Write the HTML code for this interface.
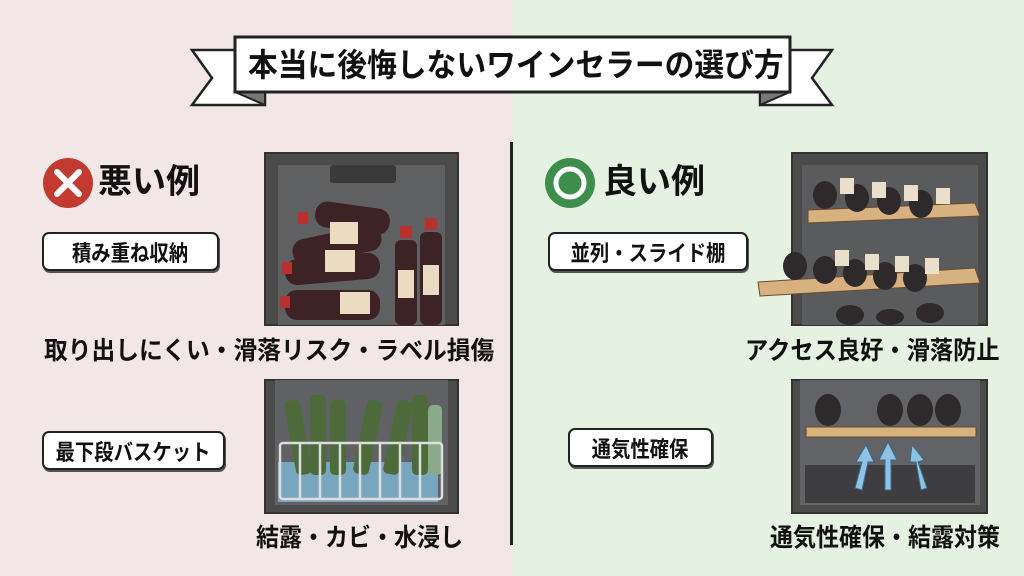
<!DOCTYPE html>
<html><head><meta charset="utf-8"><style>
*{margin:0;padding:0;box-sizing:border-box}
body{width:1024px;height:576px;position:relative;overflow:hidden;font-family:"Liberation Sans","Noto Sans CJK JP",sans-serif;font-weight:700;color:#111}
.t{position:absolute;white-space:nowrap;transform-origin:left center;line-height:1}
.lab{position:absolute;border:2.5px solid #222;border-radius:7px;background:#fff;box-shadow:1px 2px 0 #555;display:flex;align-items:center;justify-content:center;font-size:22px;white-space:nowrap}
.lab span{display:inline-block;transform:scaleX(.88)}
</style></head><body>
<div style="position:absolute;left:0;top:0;width:512px;height:576px;background:#f3e6e6"></div>
<div style="position:absolute;left:512px;top:0;width:512px;height:576px;background:#e5f1e1"></div>
<div style="position:absolute;left:510px;top:142px;width:3px;height:403px;background:#222"></div>

<svg style="position:absolute;left:0;top:0" width="1024" height="576">
 <polygon points="192,50 265,50 265,105 192,105 212,78" fill="#fff" stroke="#222" stroke-width="2.5"/>
 <polygon points="832,50 760,50 760,105 832,105 812,78" fill="#fff" stroke="#222" stroke-width="2.5"/>
 <polygon points="235,92 265,105 265,92" fill="#777" stroke="#222" stroke-width="2"/>
 <polygon points="790,92 760,105 760,92" fill="#777" stroke="#222" stroke-width="2"/>
 <rect x="235" y="37" width="555" height="55" fill="#fff" stroke="#222" stroke-width="3"/>
 <circle cx="68" cy="183" r="25" fill="#c23a30"/>
 <path d="M57 172 L79 194 M79 172 L57 194" stroke="#fff" stroke-width="6" stroke-linecap="round"/>
 <circle cx="570" cy="183" r="25" fill="#3f8d4c"/>
 <circle cx="570" cy="183" r="14" fill="none" stroke="#fff" stroke-width="5"/>

 <!-- fridge 1 -->
 <rect x="265" y="153" width="193" height="172" fill="#4b4b4b" stroke="#333" stroke-width="2"/>
 <rect x="278" y="165" width="167" height="160" fill="#5f6062"/>
 <rect x="330" y="165" width="66" height="18" rx="3" fill="#3a3a3a"/>
 <g fill="#3d2326">
  <rect x="315" y="205" width="75" height="26" rx="12" transform="rotate(8 352 218)"/>
  <rect x="292" y="232" width="90" height="26" rx="12" transform="rotate(-12 337 245)"/>
  <rect x="285" y="256" width="95" height="26" rx="12" transform="rotate(-5 332 269)"/>
  <rect x="285" y="290" width="95" height="30" rx="12"/>
  <rect x="395" y="240" width="22" height="85" rx="6"/>
  <rect x="420" y="232" width="22" height="93" rx="6"/>
 </g>
 <g fill="#e9dcc0"><rect x="330" y="222" width="28" height="22"/><rect x="325" y="250" width="30" height="22"/><rect x="340" y="292" width="30" height="22"/><rect x="398" y="270" width="16" height="28"/><rect x="423" y="265" width="16" height="30"/></g>
 <g fill="#b8312f"><rect x="298" y="212" width="10" height="12"/><rect x="282" y="262" width="10" height="12"/><rect x="280" y="296" width="10" height="12"/><rect x="400" y="226" width="12" height="12"/><rect x="425" y="218" width="12" height="12"/></g>
 <!-- fridge 2 -->
 <rect x="265" y="380" width="193" height="133" fill="#4b4b4b" stroke="#333" stroke-width="2"/>
 <rect x="275" y="380" width="173" height="125" fill="#606164"/>
 <rect x="278" y="462" width="160" height="40" fill="#7fb8d6" opacity=".8"/>
 <g fill="#4c6a3a">
  <rect x="290" y="400" width="16" height="75" rx="5" transform="rotate(-10 298 437)"/>
  <rect x="310" y="395" width="16" height="80" rx="5"/>
  <rect x="330" y="400" width="16" height="75" rx="5"/>
  <rect x="360" y="400" width="16" height="75" rx="5" transform="rotate(12 368 437)"/>
  <rect x="390" y="400" width="16" height="75" rx="5" transform="rotate(12 398 437)"/>
  <rect x="412" y="395" width="16" height="80" rx="5"/>
  <rect x="428" y="405" width="14" height="70" rx="5" fill="#8aaa8a"/>
 </g>
 <g fill="none" stroke="#ddd" stroke-width="2.5">
  <rect x="280" y="443" width="162" height="56" rx="3"/>
  <path d="M300 443v56M320 443v56M340 443v56M360 443v56M380 443v56M400 443v56M420 443v56"/>
 </g>
 <!-- fridge 3 -->
 <rect x="792" y="153" width="195" height="172" fill="#4b4b4b" stroke="#333" stroke-width="2"/>
 <rect x="802" y="165" width="176" height="160" fill="#5a5b5d"/>
 <polygon points="808,210 975,203 980,216 808,223" fill="#d7b17f" stroke="#6a4a2a"/>
 <polygon points="758,282 975,268 980,283 760,296" fill="#d7b17f" stroke="#6a4a2a"/>
 <g fill="#2e2a2c">
  <ellipse cx="825" cy="195" rx="12" ry="14"/><ellipse cx="857" cy="198" rx="12" ry="14"/><ellipse cx="889" cy="201" rx="12" ry="14"/><ellipse cx="921" cy="204" rx="12" ry="14"/>
  <ellipse cx="795" cy="266" rx="12" ry="14"/><ellipse cx="825" cy="270" rx="12" ry="14"/><ellipse cx="855" cy="273" rx="12" ry="14"/><ellipse cx="885" cy="276" rx="12" ry="14"/><ellipse cx="915" cy="278" rx="12" ry="14"/>
  <ellipse cx="850" cy="315" rx="14" ry="10"/><ellipse cx="890" cy="317" rx="14" ry="8"/><ellipse cx="930" cy="313" rx="14" ry="10"/>
 </g>
 <g fill="#eadfcb"><rect x="840" y="178" width="14" height="16"/><rect x="872" y="182" width="14" height="16"/><rect x="904" y="185" width="14" height="16"/><rect x="936" y="188" width="14" height="16"/><rect x="835" y="250" width="14" height="16"/><rect x="865" y="254" width="14" height="16"/><rect x="895" y="256" width="14" height="16"/><rect x="925" y="258" width="14" height="16"/></g>
 <!-- fridge 4 -->
 <rect x="792" y="380" width="195" height="133" fill="#4b4b4b" stroke="#333" stroke-width="2"/>
 <rect x="800" y="380" width="180" height="125" fill="#626366"/>
 <rect x="806" y="427" width="170" height="10" fill="#d7b17f" stroke="#6a4a2a"/>
 <rect x="805" y="465" width="170" height="38" fill="#3e3e40"/>
 <g fill="#2e2a2c"><ellipse cx="828" cy="410" rx="13" ry="16"/><ellipse cx="890" cy="410" rx="13" ry="16"/><ellipse cx="920" cy="410" rx="13" ry="16"/><ellipse cx="948" cy="410" rx="13" ry="16"/></g>
 <g fill="#8fc3e6" stroke="#3a6a8a" stroke-width="1">
  <path d="M855 488 L862 462 L856 462 L866 445 L874 462 L868 462 L862 490Z"/>
  <path d="M885 490 L885 460 L879 460 L888 442 L897 460 L891 460 L891 490Z"/>
  <path d="M921 490 L916 462 L910 462 L912 445 L924 460 L918 462 L927 488Z"/>
 </g>
</svg>

<div class="t" style="left:248px;top:49px;font-size:32px;transform:scaleX(.93)">本当に後悔しないワインセラーの選び方</div>
<div class="t" style="left:98px;top:165px;font-size:34px">悪い例</div>
<div class="t" style="left:603px;top:165px;font-size:34px">良い例</div>

<div class="lab" style="left:42px;top:232px;width:177px;height:39px"><span>積み重ね収納</span></div>
<div class="lab" style="left:548px;top:232px;width:200px;height:39px"><span>並列・スライド棚</span></div>
<div class="lab" style="left:42px;top:431px;width:183px;height:39px"><span>最下段バスケット</span></div>
<div class="lab" style="left:568px;top:428px;width:145px;height:39px"><span>通気性確保</span></div>

<div class="t" style="left:44px;top:339px;font-size:25px;transform:scaleX(.95)">取り出しにくい・滑落リスク・ラベル損傷</div>
<div class="t" style="left:745px;top:339px;font-size:25px;transform:scaleX(.93)">アクセス良好・滑落防止</div>
<div class="t" style="left:256px;top:526px;font-size:25px;transform:scaleX(.92)">結露・カビ・水浸し</div>
<div class="t" style="left:770px;top:526px;font-size:25px;transform:scaleX(.92)">通気性確保・結露対策</div>
</body></html>
